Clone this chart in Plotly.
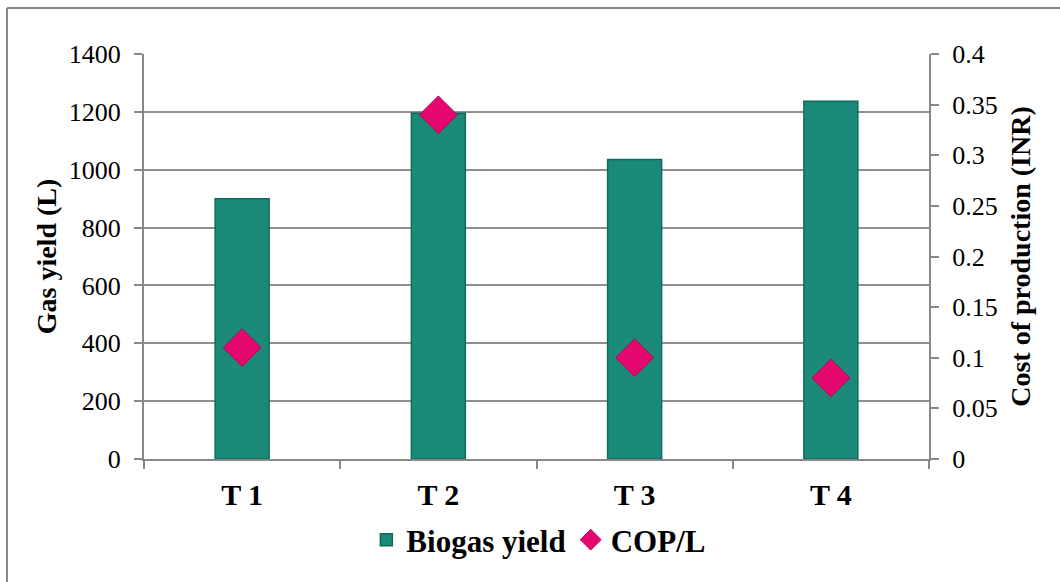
import plotly.graph_objects as go

# Treatments and measured values
treatments = ["T 1", "T 2", "T 3", "T 4"]
biogas_yield = [900, 1195, 1035, 1237]        # litres
cop_per_litre = [0.11, 0.34, 0.10, 0.08]      # INR per litre

left_ticks = [0, 200, 400, 600, 800, 1000, 1200, 1400]
right_ticks = [0, 0.05, 0.1, 0.15, 0.2, 0.25, 0.3, 0.35, 0.4]

AXIS_GREY = "#888888"
SERIF = "Liberation Serif, Times New Roman, serif"

fig = go.Figure()

fig.add_trace(go.Bar(
    x=treatments,
    y=biogas_yield,
    name="Biogas yield",
    marker=dict(color="#1B8A78", line=dict(color="#0F6A5C", width=1.5)),
    width=0.275,
    yaxis="y",
))

fig.add_trace(go.Scatter(
    x=treatments,
    y=cop_per_litre,
    name="COP/L",
    mode="markers",
    marker=dict(symbol="diamond", size=29, color="#E5096F",
                line=dict(color="#B8005A", width=1)),
    yaxis="y2",
))

fig.update_layout(
    width=1060,
    height=582,
    margin=dict(l=144, r=131, t=54, b=123),
    paper_bgcolor="white",
    plot_bgcolor="white",
    font=dict(family=SERIF, color="black"),
    showlegend=True,
    legend=dict(
        orientation="h",
        x=0.503, xanchor="center",
        y=-0.2, yanchor="middle",
        font=dict(size=31, family=SERIF, weight="bold"),
        itemwidth=30,
        tracegroupgap=0,
    ),
    xaxis=dict(
        type="category",
        showline=True, linecolor=AXIS_GREY, linewidth=2,
        ticks="outside", tickson="boundaries", ticklen=8,
        tickcolor=AXIS_GREY, tickwidth=2,
        tickfont=dict(size=30, family=SERIF, weight="bold"),
        ticklabelstandoff=8,
        showgrid=False,
    ),
    yaxis=dict(
        range=[0, 1400],
        tickvals=left_ticks,
        showline=True, linecolor=AXIS_GREY, linewidth=2,
        ticks="outside", ticklen=8, tickcolor=AXIS_GREY, tickwidth=2,
        tickfont=dict(size=26, family=SERIF),
        ticklabelstandoff=8,
        showgrid=True, gridcolor="#8F8F8F", gridwidth=2,
        zeroline=False,
        title=dict(text="Gas yield (L)", standoff=4,
                   font=dict(size=28, family=SERIF, weight="bold")),
    ),
    yaxis2=dict(
        range=[0, 0.4],
        tickvals=right_ticks,
        overlaying="y",
        side="right",
        showline=True, linecolor=AXIS_GREY, linewidth=2,
        ticks="outside", ticklen=8, tickcolor=AXIS_GREY, tickwidth=2,
        tickfont=dict(size=26, family=SERIF),
        ticklabelstandoff=8,
        showgrid=False, zeroline=False,
        title=dict(text="Cost of production (INR)", standoff=14,
                   font=dict(size=28, family=SERIF, weight="bold")),
    ),
    shapes=[
        # chart frame: top and left edges
        dict(type="line", xref="paper", yref="paper",
             x0=(7 - 144) / 785, x1=(1060 - 144) / 785,
             y0=(459 - 8) / 405, y1=(459 - 8) / 405,
             line=dict(color="#8A8A8A", width=2)),
        dict(type="line", xref="paper", yref="paper",
             x0=(7 - 144) / 785, x1=(7 - 144) / 785,
             y0=(459 - 8) / 405, y1=(459 - 590) / 405,
             line=dict(color="#8A8A8A", width=2)),
    ],
)

fig.write_html("out.html")
